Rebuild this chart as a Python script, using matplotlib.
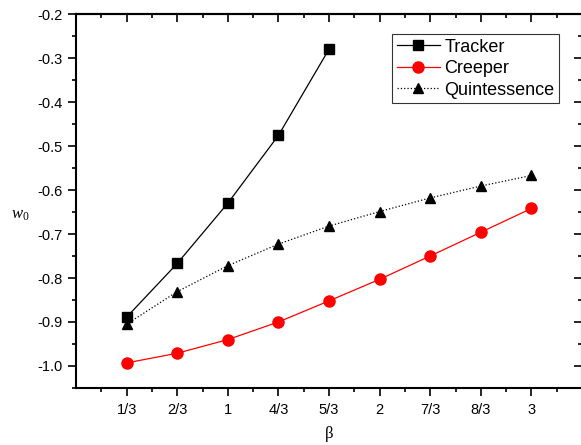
import numpy as np
import matplotlib
matplotlib.use('Agg')
import matplotlib.pyplot as plt
from matplotlib.ticker import MultipleLocator, FixedLocator

plt.rcParams['font.family'] = ['Liberation Sans', 'DejaVu Sans']
plt.rcParams['mathtext.fontset'] = 'custom'
plt.rcParams['mathtext.it'] = 'Liberation Serif:italic'
plt.rcParams['mathtext.rm'] = 'Liberation Serif'

# beta categories and w0 values
beta_labels = ['1/3', '2/3', '1', '4/3', '5/3', '2', '7/3', '8/3', '3']
tracker = [-0.889, -0.767, -0.630, -0.476, -0.280]
creeper = [-0.993, -0.971, -0.940, -0.900, -0.852, -0.803, -0.750, -0.696, -0.642]
quint = [-0.905, -0.831, -0.772, -0.723, -0.682, -0.649, -0.618, -0.591, -0.567]

pos = np.arange(1, len(beta_labels) + 1)

fig = plt.figure(figsize=(5.81, 4.45), dpi=100)
ax = fig.add_axes([76/581, 1 - 388/445, 506/581, (388 - 14)/445])

ax.plot(pos[:len(tracker)], tracker, 'k-', marker='s', ms=6.5, lw=0.9, label='Tracker')
ax.plot(pos, creeper, '-', color='red', marker='o', ms=8, mfc='red', mec='red', lw=0.9, label='Creeper')
ax.plot(pos, quint, 'k:', marker='^', ms=7.5, lw=0.9, label='Quintessence')

ax.set_xlim(0, 10)
ax.set_ylim(-1.05, -0.2)
ax.xaxis.set_major_locator(FixedLocator(pos))
ax.set_xticklabels(beta_labels)
ax.xaxis.set_minor_locator(FixedLocator(np.arange(0.5, 10, 1.0)))
ax.yaxis.set_minor_locator(MultipleLocator(0.05))
yt = np.arange(-1.0, -0.15, 0.1)
ax.set_yticks(yt)
ax.set_yticklabels(['%.1f' % v for v in yt])

for s in ax.spines.values():
    s.set_linewidth(1.5)

ax.tick_params(which='both', direction='out', labelsize=10.5, width=1.2)
ax.tick_params(which='major', length=6)
ax.tick_params(which='minor', length=3)
ax.tick_params(axis='x', which='major', pad=4.5)

# mirrored ticks on top and right, pointing into the plot
ax_top = ax.secondary_xaxis('top')
ax_top.xaxis.set_major_locator(FixedLocator(pos))
ax_top.xaxis.set_minor_locator(FixedLocator(np.arange(0.5, 10, 1.0)))
ax_top.tick_params(which='both', direction='in', labeltop=False, width=1.2)
ax_top.tick_params(which='major', length=6)
ax_top.tick_params(which='minor', length=3)
ax_top.spines['top'].set_linewidth(1.5)

ax_right = ax.secondary_yaxis('right')
ax_right.yaxis.set_major_locator(MultipleLocator(0.1))
ax_right.yaxis.set_minor_locator(MultipleLocator(0.05))
ax_right.tick_params(which='both', direction='in', labelright=False, width=1.2)
ax_right.tick_params(which='major', length=6)
ax_right.tick_params(which='minor', length=3)

fig.text(329/581, 1 - 434/445, 'β', fontsize=12, family='Liberation Serif',
         ha='center', va='center')
fig.text(20/581, 1 - 215/445, r'$w_0$', fontsize=12, ha='center', va='center')

leg = ax.legend(loc='upper right', bbox_to_anchor=((559 - 76)/506, (388 - 34)/374),
                fontsize=13, frameon=True, fancybox=False, edgecolor='black',
                handlelength=2.4, borderpad=0.25, labelspacing=0.25, handletextpad=0.25,
                borderaxespad=0)
leg.get_frame().set_linewidth(0.8)

fig.savefig('out.png', dpi=100)
